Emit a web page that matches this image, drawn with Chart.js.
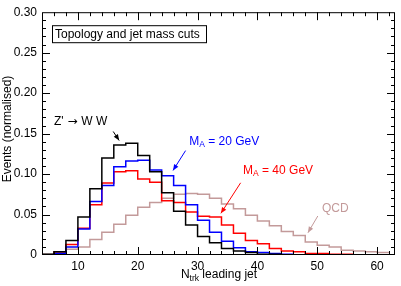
<!DOCTYPE html>
<html>
<head>
<meta charset="utf-8">
<script src="https://cdn.jsdelivr.net/npm/chart.js@4"></script>
<style>
html, body { margin: 0; padding: 0; background: #fff; }
#wrap { width: 401px; height: 286px; }
</style>
</head>
<body>
<div id="wrap"><canvas id="chart" width="401" height="286"></canvas></div>
<script>
// Datos (bins de 2 en Ntrk, borde inferior de cada bin)
const binLow = [4, 6, 8, 10, 12, 14, 16, 18, 20, 22, 24, 26, 28, 30, 32, 34, 36, 38, 40, 42, 44, 46, 48, 50, 52, 54, 56, 58, 60];
const binWidth = 2;

const zprimeWW = [0.001, 0.004, 0.018, 0.047, 0.082, 0.120, 0.136, 0.138, 0.123, 0.103, 0.077, 0.054, 0.037, 0.023, 0.015, 0.008, 0.005, 0.003, 0.001, 0.001, 0, 0, 0, 0, 0, 0, 0, 0, 0];
const ma20 = [0, 0.002, 0.010, 0.032, 0.066, 0.086, 0.109, 0.116, 0.117, 0.105, 0.098, 0.086, 0.062, 0.043, 0.028, 0.017, 0.009, 0.004, 0.003, 0.002, 0.001, 0, 0, 0, 0, 0, 0, 0, 0];
const ma40 = [0, 0.004, 0.013, 0.033, 0.062, 0.089, 0.103, 0.104, 0.094, 0.090, 0.067, 0.065, 0.053, 0.048, 0.047, 0.037, 0.027, 0.018, 0.014, 0.008, 0.005, 0.004, 0.002, 0.002, 0.001, 0.001, 0, 0, 0];
const qcd = [0.001, 0.003, 0.007, 0.010, 0.019, 0.028, 0.038, 0.049, 0.059, 0.065, 0.070, 0.075, 0.076, 0.075, 0.070, 0.063, 0.057, 0.049, 0.042, 0.036, 0.029, 0.024, 0.016, 0.012, 0.010, 0.006, 0.005, 0.004, 0.003];

const xTicks = [10, 20, 30, 40, 50, 60];
const yTicks = [0, 0.05, 0.10, 0.15, 0.20, 0.25, 0.30];

const FONT = "'Liberation Sans', Arial, Helvetica, sans-serif";
const SYM_FONT = "'DejaVu Sans', sans-serif";
const QCD_COLOR = '#c39a9a';

// Etiquetas con flecha (en unidades de datos)
const notes = [
    { parts: [["Z'", 12, 0], [' \u2192 ', 12, 0, SYM_FONT], ['W W', 12, 0]], color: '#000', x: 6.0, y: 0.165, from: [15.9, 0.1526], to: [16.9, 0.1415] },
    { parts: [['M', 12, 0], ['A', 8.5, 3], [' = 20 GeV', 12, 0]], color: '#0000ff', x: 28.6, y: 0.1398, from: [28.0, 0.129], to: [25.9, 0.1045] },
    { parts: [['M', 12, 0], ['A', 8.5, 3], [' = 40 GeV', 12, 0]], color: '#ff0000', x: 37.6, y: 0.1036, from: [37.2, 0.0892], to: [33.9, 0.0515] },
    { parts: [['QCD', 12, 0]], color: QCD_COLOR, x: 50.8, y: 0.0578, from: [50.1, 0.0482], to: [48.45, 0.0275] }
];

function histPoints(vals) {
    const pts = vals.map((v, i) => ({ x: binLow[i], y: v }));
    pts.push({ x: binLow[binLow.length - 1] + binWidth, y: vals[vals.length - 1] });
    return pts;
}

function histDataset(vals, color) {
    return {
        data: histPoints(vals),
        borderColor: color,
        borderWidth: 1.5,
        stepped: 'before',
        pointRadius: 0,
        fill: false,
        tension: 0
    };
}

function drawParts(ctx, parts, x, y) {
    let cx = x;
    parts.forEach(([txt, size, dy, fam]) => {
        ctx.font = size + 'px ' + (fam || FONT);
        ctx.fillText(txt, cx, y + dy);
        cx += ctx.measureText(txt).width;
    });
    return cx - x;
}

function partsWidth(ctx, parts) {
    let w = 0;
    parts.forEach(([txt, size, dy, fam]) => {
        ctx.font = size + 'px ' + (fam || FONT);
        w += ctx.measureText(txt).width;
    });
    return w;
}

function arrow(ctx, x0, y0, x1, y1, color) {
    ctx.strokeStyle = color;
    ctx.fillStyle = color;
    ctx.lineWidth = 1;
    ctx.beginPath();
    ctx.moveTo(x0, y0);
    ctx.lineTo(x1, y1);
    ctx.stroke();
    const ang = Math.atan2(y1 - y0, x1 - x0);
    const L = 6, W = 2.5;
    ctx.beginPath();
    ctx.moveTo(x1, y1);
    ctx.lineTo(x1 - L * Math.cos(ang) + W * Math.sin(ang), y1 - L * Math.sin(ang) - W * Math.cos(ang));
    ctx.lineTo(x1 - L * Math.cos(ang) - W * Math.sin(ang), y1 - L * Math.sin(ang) + W * Math.cos(ang));
    ctx.closePath();
    ctx.fill();
}

// Marco, ticks interiores y textos estilo ROOT
const rootStyle = {
    id: 'rootStyle',
    afterDraw(chart) {
        const ctx = chart.ctx;
        const a = chart.chartArea;
        const xs = chart.scales.x, ys = chart.scales.y;
        ctx.save();
        ctx.strokeStyle = '#000';
        ctx.lineWidth = 1;
        ctx.strokeRect(a.left + 0.5, a.top + 0.5, a.right - a.left - 1, a.bottom - a.top - 1);

        ctx.beginPath();
        for (let v = 6; v < 63; v += 2) {
            const px = Math.round(xs.getPixelForValue(v)) + 0.5;
            const len = v % 10 === 0 ? 8 : 4;
            ctx.moveTo(px, a.bottom); ctx.lineTo(px, a.bottom - len);
            ctx.moveTo(px, a.top); ctx.lineTo(px, a.top + len);
        }
        for (let i = 1; i < 30; i++) {
            const py = Math.round(ys.getPixelForValue(i / 100)) + 0.5;
            const len = i % 5 === 0 ? 8 : 4;
            ctx.moveTo(a.left, py); ctx.lineTo(a.left + len, py);
            ctx.moveTo(a.right, py); ctx.lineTo(a.right - len, py);
        }
        ctx.stroke();

        // caja de título
        ctx.fillStyle = '#fff';
        ctx.fillRect(a.left + 10.5, a.top + 13.5, 154, 17);
        ctx.strokeRect(a.left + 10.5, a.top + 13.5, 154, 17);
        ctx.fillStyle = '#000';
        ctx.font = '12px ' + FONT;
        ctx.textBaseline = 'middle';
        ctx.textAlign = 'left';
        ctx.fillText('Topology and jet mass cuts', a.left + 13, a.top + 22.5);

        // anotaciones
        notes.forEach(n => {
            ctx.fillStyle = n.color;
            drawParts(ctx, n.parts, xs.getPixelForValue(n.x), ys.getPixelForValue(n.y));
            arrow(ctx, xs.getPixelForValue(n.from[0]), ys.getPixelForValue(n.from[1]),
                xs.getPixelForValue(n.to[0]), ys.getPixelForValue(n.to[1]), n.color);
        });

        // título eje y
        ctx.fillStyle = '#000';
        ctx.save();
        ctx.translate(11, 129);
        ctx.rotate(-Math.PI / 2);
        ctx.textAlign = 'center';
        ctx.textBaseline = 'alphabetic';
        ctx.font = '12px ' + FONT;
        ctx.fillText('Events (normalised)', 0, 0);
        ctx.restore();

        // título eje x
        const xt = [['N', 12, 0], ['trk', 8.5, 3], [' leading jet', 12, 0]];
        ctx.textAlign = 'left';
        ctx.textBaseline = 'alphabetic';
        const w = partsWidth(ctx, xt);
        drawParts(ctx, xt, 219 - w / 2, 278);
        ctx.restore();
    }
};

const chart = new Chart(document.getElementById('chart').getContext('2d'), {
    type: 'line',
    data: {
        datasets: [
            histDataset(zprimeWW, '#000000'),
            histDataset(ma20, '#0000ff'),
            histDataset(ma40, '#ff0000'),
            histDataset(qcd, QCD_COLOR)
        ]
    },
    options: {
        responsive: false,
        animation: false,
        devicePixelRatio: 1,
        layout: { padding: { top: 6, right: 6, left: 0, bottom: 0 } },
        plugins: { legend: { display: false }, tooltip: { enabled: false }, title: { display: false } },
        scales: {
            x: {
                type: 'linear',
                min: 4,
                max: 63,
                afterBuildTicks: s => { s.ticks = xTicks.map(v => ({ value: v })); },
                afterFit: s => { s.height = 31; },
                grid: { display: false, drawTicks: false },
                border: { display: false },
                ticks: { color: '#000', padding: 4, maxRotation: 0, font: { family: FONT, size: 12 } }
            },
            y: {
                min: 0,
                max: 0.3,
                afterBuildTicks: s => { s.ticks = yTicks.map(v => ({ value: v })); },
                afterFit: s => { s.width = 42; },
                grid: { display: false, drawTicks: false },
                border: { display: false },
                ticks: {
                    color: '#000', padding: 5, font: { family: FONT, size: 12 },
                    callback: v => v === 0 ? '0' : v.toFixed(2)
                }
            }
        }
    },
    plugins: [rootStyle]
});
</script>
</body>
</html>
